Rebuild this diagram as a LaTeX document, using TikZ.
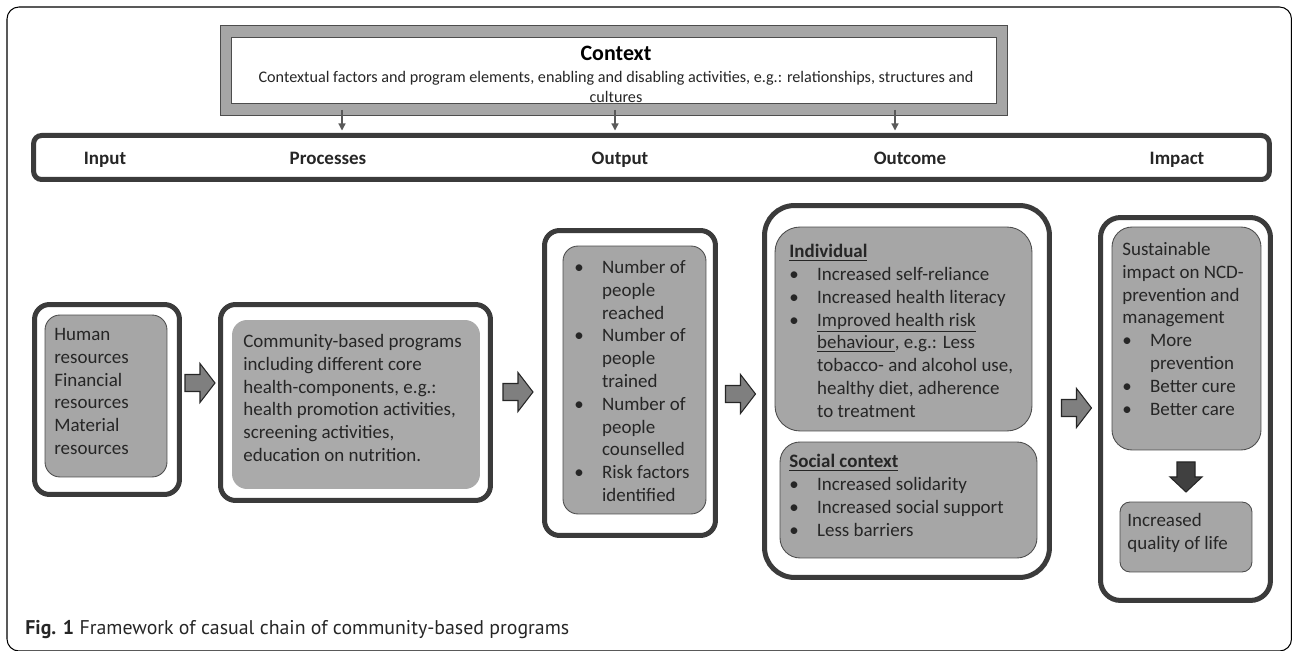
\documentclass[tikz,border=0pt]{standalone}
\usepackage{fontspec}
\setmainfont{Carlito}
\newfontfamily\capfont{PT Sans}
\usepackage{tikz}
\usetikzlibrary{positioning, arrows.meta}

\definecolor{edgegray}{HTML}{3B3B3B}
\definecolor{fillgray}{HTML}{A6A6A6}
\definecolor{thingray}{HTML}{4D4D4D}
\definecolor{textgray}{HTML}{262626}
\definecolor{arrowfill}{HTML}{7F7F7F}
\definecolor{darkfill}{HTML}{404040}
\definecolor{ctxline}{HTML}{5A5A5A}

\newcommand{\bl}{\makebox[15.8pt][l]{\textbullet}}
\newcommand{\hang}{\hspace*{15.8pt}}

\tikzset{
  outerbox/.style={draw=edgegray, line width=0.1cm, fill=white, rounded corners=0.3cm, inner sep=0pt},
  innerbox/.style={draw=thingray, line width=0.5pt, fill=fillgray, rounded corners=0.3cm, inner sep=0pt},
  txt/.style={anchor=north west, inner sep=0pt, align=left, text=textgray,
    font=\fontsize{10.8}{12.97}\selectfont},
  stagelabel/.style={anchor=base, inner sep=0pt, text=textgray, font=\bfseries\fontsize{10.8}{13}\selectfont},
  ctxarrow/.style={draw=ctxline, line width=0.7pt, -{Triangle[length=4pt,width=4pt]}, shorten >=0.05cm},
  % block arrows, drawn round their centre
  rarrow/.pic={
    \filldraw[fill=arrowfill, draw=black!85, line width=0.6pt]
      (-15,-8.5) -- (0,-8.5) -- (0,-19.5) -- (15,0) -- (0,19.5) -- (0,8.5) -- (-15,8.5) -- cycle;
  },
  darrow/.pic={
    \filldraw[fill=darkfill, draw=black!85, line width=0.6pt]
      (-9,-15) -- (-9,0) -- (-16,0) -- (0,15) -- (16,0) -- (9,0) -- (9,-15) -- cycle;
  },
}

\begin{document}
\begin{tikzpicture}[x=0.02cm, y=-0.02cm]
\useasboundingbox (0,0) rectangle (1292,651);

% frame round everything
\draw[line width=0.6pt, rounded corners=0.24cm] (7,7) rectangle (1291.5,651);

% context on top
\node[draw=thingray, line width=0.5pt, fill=fillgray, minimum width=15.76cm, minimum height=1.8cm, inner sep=0pt] (ctxOut) at (614,70) {};
\node[draw=thingray, line width=0.5pt, fill=white, minimum width=15.32cm, minimum height=1.32cm, inner sep=0pt] (ctxIn) at (614,70) {};
\node[inner sep=0pt, text=black, font=\bfseries\fontsize{12.5}{15}\selectfont] (ctxTitle) at (616,53) {Context};
\node[inner sep=0pt, text=textgray, align=center, font=\fontsize{9.2}{11.4}\selectfont] (ctxBody) at (616,87)
  {Contextual factors and program elements, enabling and disabling activities, e.g.: relationships, structures and\\cultures};

% stage bar
\node[draw=edgegray, line width=0.1cm, rounded corners=0.16cm, minimum width=24.72cm, minimum height=0.88cm, inner sep=0pt] (bar) at (651.5,157.5) {};
\node[stagelabel] (lbInput) at (105,165) {Input};
\node[stagelabel] (lbProc) at (328,165) {Processes};
\node[stagelabel] (lbOutput) at (620,165) {Output};
\node[stagelabel] (lbOutcome) at (910,165) {Outcome};
\node[stagelabel] (lbImpact) at (1177,165) {Impact};

\coordinate (c1) at (342,110);
\coordinate (c2) at (615,110);
\coordinate (c3) at (895,110);
\foreach \c in {c1,c2,c3}
  \draw[ctxarrow] (\c) -- (\c |- bar.north);

% input
\node[outerbox, minimum width=2.9cm, minimum height=3.8cm] (inOut) at (107,399.5) {};
\node[innerbox, minimum width=2.44cm, minimum height=3.24cm] (inBox) at (106,396) {};
\node[txt] (inTxt) at (54,328) {Human\\resources\\Financial\\resources\\Material\\resources};

% processes
\node[outerbox, minimum width=5.4cm, minimum height=3.92cm] (prOut) at (355.5,402.5) {};
\node[innerbox, draw=none, fill=fillgray!95!white, minimum width=4.96cm, minimum height=3.38cm] (prBox) at (356,404.5) {};
\node[txt] (prTxt) at (243,334) {Community-based programs\\including different core\\health-components, e.g.:\\health promotion activities,\\screening activities,\\education on nutrition.};

% output
\node[outerbox, minimum width=3.42cm, minimum height=6.1cm] (ouOut) at (630,383) {};
\node[innerbox, minimum width=2.86cm, minimum height=5.36cm] (ouBox) at (634.5,380) {};
\node[txt] (ouTxt) at (574,260) {\bl Number of\\\hang people\\\hang reached\\\bl Number of\\\hang people\\\hang trained\\\bl Number of\\\hang people\\\hang counselled\\\bl Risk factors\\\hang identified};

% outcome
\node[outerbox, rounded corners=0.6cm, minimum width=5.7cm, minimum height=7.44cm] (ocOut) at (907,391.5) {};
\node[innerbox, rounded corners=0.5cm, minimum width=5.14cm, minimum height=4.08cm] (indBox) at (903.5,329) {};
\node[txt] (indTxt) at (789,244) {\underline{\textbf{Individual}}\\\bl Increased self-reliance\\\bl Increased health literacy\\\bl \underline{Improved health risk}\\\hang \underline{behaviour}, e.g.: Less\\\hang tobacco- and alcohol use,\\\hang healthy diet, adherence\\\hang to treatment};
\node[innerbox, rounded corners=0.4cm, minimum width=5.14cm, minimum height=2.32cm] (socBox) at (908.5,500) {};
\node[txt] (socTxt) at (789,454) {\underline{\textbf{Social context}}\\\bl Increased solidarity\\\bl Increased social support\\\bl Less barriers};

% impact
\node[outerbox, rounded corners=0.4cm, minimum width=3.4cm, minimum height=7.66cm] (imOut) at (1185.5,409) {};
\node[innerbox, rounded corners=0.4cm, minimum width=2.98cm, minimum height=4.46cm] (imBox) at (1186.5,338.5) {};
\node[txt] (imTxt) at (1122,242) {Sustainable\\impact on NCD-\\prevention and\\management\\\bl More\\\hang prevention\\\bl Better cure\\\bl Better care};
\node[innerbox, rounded corners=0.2cm, minimum width=2.64cm, minimum height=1.4cm] (qolBox) at (1186,537) {};
\node[txt] (qolTxt) at (1127,513) {Increased\\quality of life};

% block arrows between the stages
\pic (a1) at (200,383) {rarrow};
\pic (a2) at (518,392) {rarrow};
\pic (a3) at (740.5,394) {rarrow};
\pic (a4) at (1076.5,408) {rarrow};
\pic (a5) at (1186,477) {darrow};

% caption
\node[anchor=west, inner sep=0pt, text=textgray, font=\capfont\fontsize{11.3}{13}\selectfont] (caption) at (25,630)
  {\textbf{Fig. 1} Framework of casual chain of community-based programs};
\end{tikzpicture}
\end{document}
